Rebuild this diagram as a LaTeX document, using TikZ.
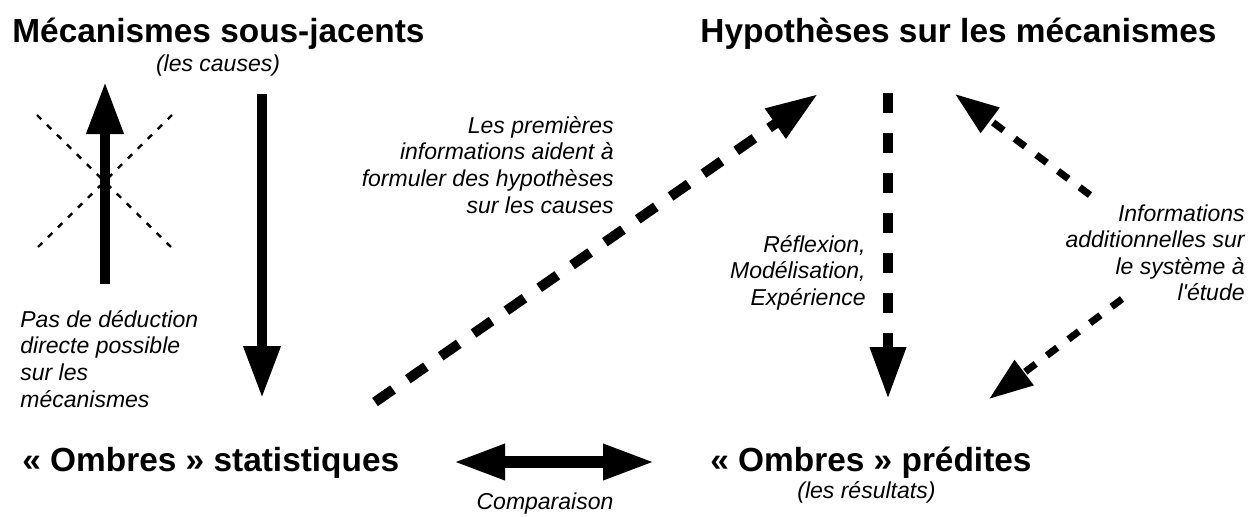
\documentclass[tikz,border=0pt]{standalone}
\usepackage{fontspec}
\setmainfont{Liberation Sans}
\usetikzlibrary{arrows.meta}

\begin{document}
\begin{tikzpicture}[x = 0.5pt, y = -0.5pt,
		titre/.style = {font = \fontsize{16.7}{20}\selectfont\bfseries, inner sep = 0},
		note/.style = {font = \fontsize{11.5}{13.3}\selectfont\itshape, inner sep = 0},
		plein/.style = {line width = 5pt, -{Triangle[length = 26pt, width = 17.5pt]}},
		tirets/.style = {line width = 5pt, dash pattern = on 11pt off 9pt, -{Triangle[length = 26pt, width = 17pt]}},
		pointilles/.style = {line width = 3.5pt, dash pattern = on 6.5pt off 7pt, -{Triangle[length = 22pt, width = 15pt]}},
		croix/.style = {line width = 1.2pt, dash pattern = on 3pt off 4pt}]
		\useasboundingbox (0,0) rectangle (1257,516);
		\node (meca) [titre, anchor = base west] at (12,42) {Mécanismes sous-jacents};
		\node (causes) [note, anchor = base] at (218,71) {(les causes)};
		\node (hyp) [titre, anchor = base west] at (700,42) {Hypothèses sur les mécanismes};
		\node (ombStat) [titre, anchor = base west] at (22,471) {« Ombres » statistiques};
		\node (ombPred) [titre, anchor = base west] at (710,471) {« Ombres » prédites};
		\node (resultats) [note, anchor = base west] at (797,498) {(les résultats)};
		\node (comparaison) [note, anchor = base] at (545,509) {Comparaison};
		\node (noteDeduc) [note, anchor = north west, align = left] at (20,310) {Pas de déduction\\directe possible\\sur les\\mécanismes};
		\node (noteHyp) [note, anchor = north east, align = right] at (614,116) {Les premières\\informations aident à\\formuler des hypothèses\\sur les causes};
		\node (noteRefl) [note, anchor = north east, align = right] at (866,235) {Réflexion,\\Modélisation,\\Expérience};
		\node (noteInfo) [note, anchor = north east, align = right] at (1245,204) {Informations\\additionnelles sur\\le système à\\l\textquotesingle étude};
		\coordinate (deducBas) at (105,284);
		\coordinate (deducHaut) at (105,82);
		\coordinate (descHaut) at (262,94);
		\coordinate (descBas) at (262,398);
		\coordinate (diagBas) at (375,402);
		\coordinate (diagHaut) at (818,94);
		\coordinate (reflHaut) at (888,93);
		\coordinate (reflBas) at (888,399);
		\coordinate (infoBas) at (1090,195);
		\coordinate (infoHaut) at (955,94);
		\coordinate (addHaut) at (1122,299);
		\coordinate (addBas) at (989,399);
		\coordinate (compG) at (453,462);
		\coordinate (compD) at (655,462);
		\draw[plein] (deducBas) -- (deducHaut);
		\draw[croix] (37,115) -- (172,248);
		\draw[croix] (172,115) -- (37,248);
		\draw[plein] (descHaut) -- (descBas);
		\draw[tirets] (diagBas) -- (diagHaut);
		\draw[tirets, dash pattern = on 10pt off 10pt] (reflHaut) -- (reflBas);
		\draw[pointilles] (infoBas) -- (infoHaut);
		\draw[pointilles] (addHaut) -- (addBas);
		\draw[line width = 6pt, {Triangle[length = 26pt, width = 16.5pt]}-{Triangle[length = 26pt, width = 16.5pt]}] (compG) -- (compD);
	\end{tikzpicture}
\end{document}
